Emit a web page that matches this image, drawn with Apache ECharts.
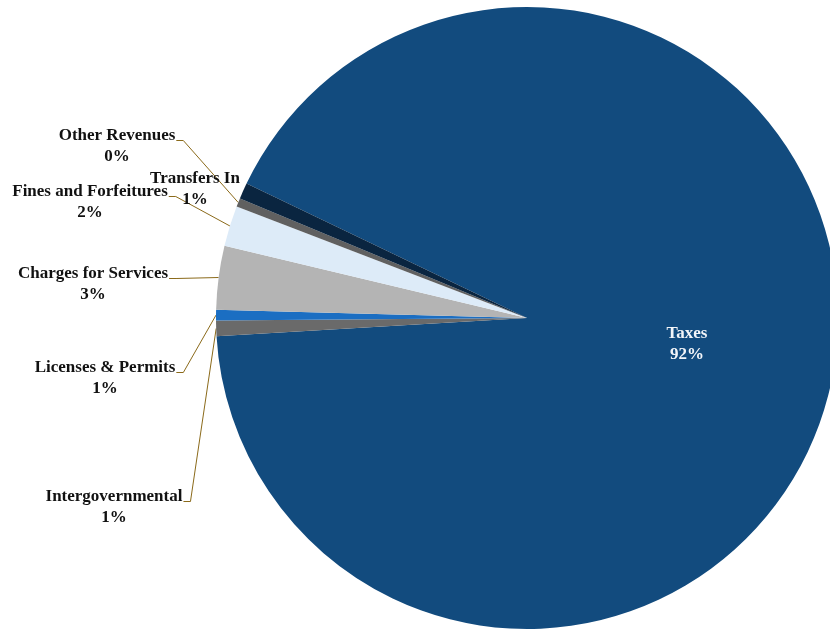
<!DOCTYPE html>
<html>
<head>
<meta charset="utf-8">
<script src="https://cdn.jsdelivr.net/npm/echarts@6/dist/echarts.min.js"></script>
<style>
html,body{margin:0;padding:0;background:#fff;}
#chart{width:830px;height:630px;}
</style>
</head>
<body>
<div id="chart"></div>
<script>
// ---- data ----
var categories = ['Taxes', 'Intergovernmental', 'Licenses & Permits', 'Charges for Services',
                  'Fines and Forfeitures', 'Other Revenues', 'Transfers In'];
var shares = [91.9, 0.8, 0.56, 3.3, 2.1, 0.45, 0.83];

// ---- styling / layout (not data) ----
var sliceColors = ['#124B7E', '#6A6A6A', '#1B6EC2', '#B4B4B4', '#DDEBF8', '#606060', '#0A2540'];
var labelCenters = [[687, 344], [114, 507], [105, 378], [93, 284], [90, 202], [117, 146], [195, 189]];
var labelHasLine = [false, true, true, true, true, true, false];

var chart = echarts.init(document.getElementById('chart'), null, {renderer: 'canvas'});

var seriesData = categories.map(function (name, i) {
  var inside = i === 0;
  return {
    name: name,
    value: shares[i],
    itemStyle: {color: sliceColors[i]},
    label: {
      position: inside ? 'inside' : 'outside',
      color: inside ? '#F2F5F9' : '#111111'
    },
    labelLine: {show: labelHasLine[i]}
  };
});

chart.setOption({
  animation: false,
  backgroundColor: '#ffffff',
  series: [{
    type: 'pie',
    center: [527, 318],
    radius: 311,
    startAngle: 154.4,
    clockwise: true,
    avoidLabelOverlap: false,
    silent: true,
    data: seriesData,
    label: {
      show: true,
      fontFamily: '"Liberation Serif", serif',
      fontWeight: 'bold',
      fontSize: 17,
      lineHeight: 21,
      align: 'center',
      formatter: function (p) {
        return p.name + '\n' + Math.round(p.percent) + '%';
      }
    },
    labelLine: {
      show: true,
      length: 10,
      length2: 10,
      lineStyle: {color: '#8B6A1A', width: 1}
    },
    labelLayout: function (params) {
      var c = labelCenters[params.dataIndex];
      var res = {x: c[0], y: c[1], align: 'center', verticalAlign: 'middle'};
      var pts = params.labelLinePoints;
      if (labelHasLine[params.dataIndex] && pts) {
        var w = params.labelRect.width;
        var right = c[0] + w / 2 + 1;
        var by = c[1] - 5.5;
        res.labelLinePoints = [pts[0], [right + 7, by], [right, by]];
      }
      return res;
    }
  }]
});
</script>
</body>
</html>
